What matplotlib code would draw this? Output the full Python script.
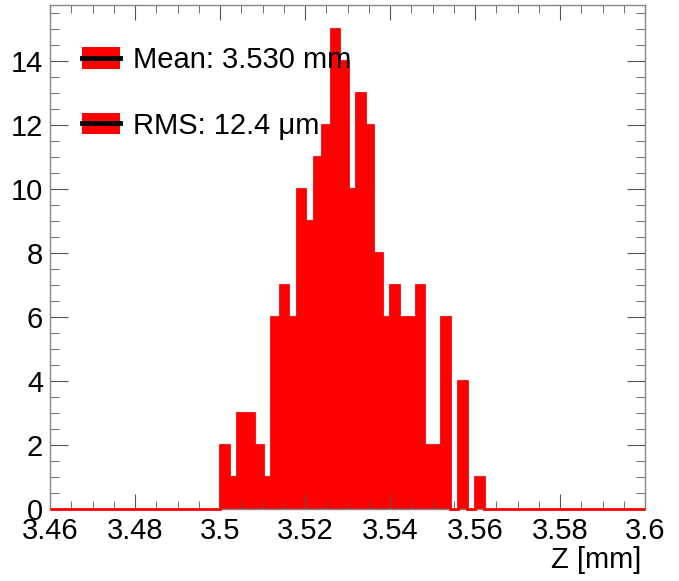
import numpy as np
import matplotlib
matplotlib.use("Agg")
import matplotlib.pyplot as plt
from matplotlib.patches import Rectangle
from matplotlib.lines import Line2D
from matplotlib.legend_handler import HandlerTuple
from matplotlib.ticker import MultipleLocator

plt.rcParams['font.family'] = ['Liberation Sans', 'DejaVu Sans']

# Histogram of Z positions, 0.002 mm bins from 3.46 to 3.60
binLow = 3.46
binHigh = 3.60
binWidth = 0.002
# counts starting at 3.500 (everything below is empty)
firstFilled = 3.50
filledCounts = [2, 1, 3, 3, 2, 1, 6, 7, 6, 10, 9, 11, 12, 15, 14,
                10, 13, 12, 8, 6, 7, 6, 6, 7, 2, 2, 6, 0, 4, 0, 1]
xTicks = [3.46, 3.48, 3.50, 3.52, 3.54, 3.56, 3.58, 3.60]
xTickLabels = ["3.46", "3.48", "3.5", "3.52", "3.54", "3.56", "3.58", "3.6"]
yTicks = [0, 2, 4, 6, 8, 10, 12, 14]
legendLabels = ["Mean: 3.530 mm", "RMS: 12.4 \u03bcm"]

nBins = int(round((binHigh - binLow) / binWidth))
edges = np.linspace(binLow, binHigh, nBins + 1)
counts = np.zeros(nBins)
start = int(round((firstFilled - binLow) / binWidth))
counts[start:start + len(filledCounts)] = filledCounts

fig = plt.figure(figsize=(6.79, 5.81), dpi=100)
ax = fig.add_axes([50/679, 1 - 509/581, 595/679, 504/581])

ax.stairs(counts, edges, fill=True, color='#ff0000', linewidth=0)
ax.stairs(counts, edges, color='#ff0000', linewidth=2, clip_on=False, zorder=3)

ax.set_xlim(binLow, binHigh)
ax.set_ylim(0, 15.75)

ax.set_xticks(xTicks)
ax.set_xticklabels(xTickLabels)
ax.set_yticks(yTicks)
ax.xaxis.set_minor_locator(MultipleLocator(0.005))
ax.yaxis.set_minor_locator(MultipleLocator(0.5))
ax.tick_params(axis='both', which='both', direction='in', top=True, right=True,
               labelsize=21, color='#555555')
ax.tick_params(axis='x', which='major', length=11, pad=6)
ax.tick_params(axis='x', which='minor', length=5.5)
ax.tick_params(axis='y', which='major', length=13, pad=5)
ax.tick_params(axis='y', which='minor', length=6.5)
for s in ax.spines.values():
    s.set_color('#888888')
    s.set_linewidth(1)

fig.text(641/679, 1 - 560/581, "Z [mm]", ha='right', va='center', fontsize=21)

# ROOT style legend: filled box with black line through it
handles = []
for i in range(len(legendLabels)):
    handles.append((Rectangle((0, 0), 1, 1, facecolor='#ff0000', edgecolor='none'),
                    Line2D([], [], color='black', linewidth=3.5)))
ax.legend(handles, legendLabels, handler_map={tuple: HandlerTuple(ndivide=1)},
          loc='upper left', bbox_to_anchor=(82/679, 1 - 46/581),
          bbox_transform=fig.transFigure, frameon=False, fontsize=21,
          borderpad=0, borderaxespad=0, handlelength=1.3, handleheight=0.75,
          handletextpad=0.45, labelspacing=1.3)

fig.savefig("out.png", dpi=100)
